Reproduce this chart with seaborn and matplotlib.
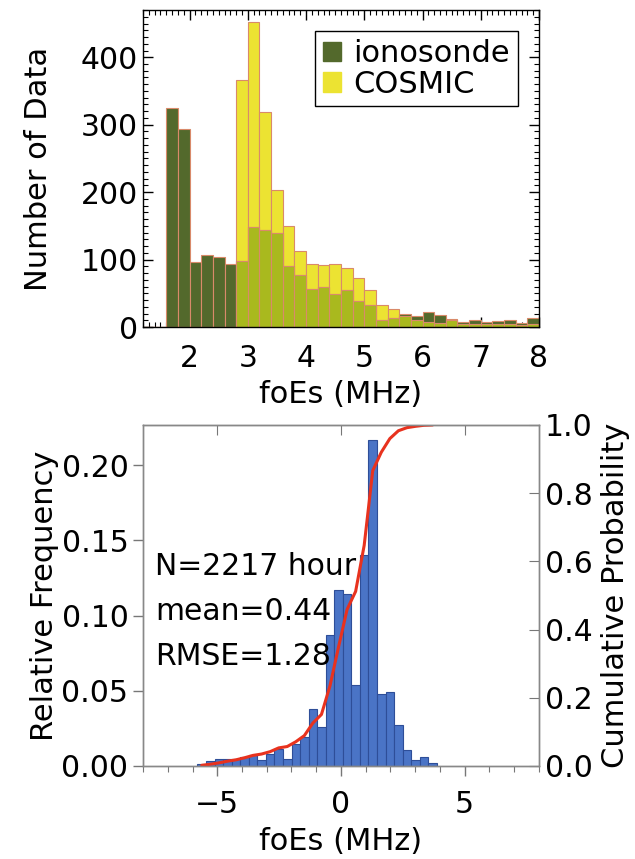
import numpy as np
import pandas as pd
import matplotlib
matplotlib.use('Agg')
import matplotlib.pyplot as plt
from matplotlib.patches import Patch
from matplotlib.ticker import MultipleLocator, FormatStrFormatter
import seaborn as sns

# Top panel: foEs histograms, 0.2 MHz bins from 1.2 to 8.0 MHz
foes_edges = [round(1.2 + 0.2 * k, 2) for k in range(35)]
ionosonde = [0, 0, 325, 293, 97, 107, 104, 93, 98, 149, 144, 139, 91, 77, 56, 60, 49,
             55, 38, 33, 11, 14, 20, 16, 22, 18, 10, 7, 11, 8, 9, 11, 6, 14]
cosmic = [0, 0, 0, 0, 0, 0, 0, 0, 367, 452, 319, 203, 150, 113, 94, 92, 94,
          88, 72, 55, 32, 27, 16, 11, 7, 6, 12, 4, 5, 4, 4, 4, 3, 4]

# Bottom panel: foEs difference histogram (relative frequency) and cumulative probability
diff_edges = [round(-5.8 + 0.3455 * k, 4) for k in range(29)]
rel_freq = [0.0016, 0.0033, 0.0044, 0.0049, 0.0044, 0.006, 0.007, 0.004, 0.0078, 0.011,
            0.0044, 0.0144, 0.019, 0.038, 0.0256, 0.087, 0.117, 0.114, 0.054, 0.14,
            0.217, 0.048, 0.049, 0.027, 0.0107, 0.004, 0.006, 0.0022]
cum_prob = [0.002, 0.005, 0.009, 0.014, 0.018, 0.024, 0.031, 0.035, 0.042, 0.053,
            0.057, 0.071, 0.089, 0.126, 0.151, 0.235, 0.349, 0.459, 0.512, 0.647,
            0.866, 0.920, 0.960, 0.983, 0.992, 0.996, 0.999, 1.000]
stats_lines = ['N=2217 hour', 'mean=0.44', 'RMSE=1.28']

green = '#53692c'
yellow = '#ece332'
olive = '#a9b91e'
blue = '#4a74c6'

sns.set_style('ticks')
plt.rcParams['font.family'] = ['DejaVu Sans']
plt.rcParams['font.size'] = 21.5
plt.rcParams['text.color'] = 'black'
plt.rcParams['axes.labelcolor'] = 'black'
plt.rcParams['xtick.labelcolor'] = 'black'
plt.rcParams['ytick.labelcolor'] = 'black'

fig = plt.figure(figsize=(6.35, 8.59), dpi=100)

# ---------- top panel ----------
ax1 = fig.add_axes([0.2252, 0.6193, 0.6236, 0.369])
foes_centers = [(a + b) / 2 for a, b in zip(foes_edges[:-1], foes_edges[1:])]
overlap = [min(a, b) for a, b in zip(ionosonde, cosmic)]
for vals, col in [(cosmic, yellow), (ionosonde, green), (overlap, olive)]:
    df = pd.DataFrame({'foEs': foes_centers, 'n': vals})
    sns.histplot(data=df, x='foEs', weights='n', bins=foes_edges, color=col,
                 edgecolor='#d98a6a', linewidth=0.8, alpha=1, ax=ax1)
ax1.set_xlim(1.2, 8.0)
ax1.set_ylim(0, 470)
ax1.xaxis.set_major_locator(MultipleLocator(1))
ax1.xaxis.set_minor_locator(MultipleLocator(0.1))
ax1.yaxis.set_major_locator(MultipleLocator(100))
ax1.yaxis.set_minor_locator(MultipleLocator(10))
ax1.tick_params(which='both', direction='in', top=True, right=True, labelsize=21.5,
                color='black', labelcolor='black')
ax1.tick_params(which='major', length=7, width=1)
ax1.tick_params(which='minor', length=3.5, width=0.8)
ax1.tick_params(axis='x', which='both', pad=12)
for sp in ax1.spines.values():
    sp.set_color('black')
    sp.set_linewidth(1)
ax1.set_xlabel('foEs (MHz)', fontsize=22, labelpad=5)
ax1.set_ylabel('Number of Data', fontsize=22, labelpad=20)
handles = [Patch(facecolor=green, edgecolor=green), Patch(facecolor=yellow, edgecolor=yellow)]
leg = ax1.legend(handles, ['ionosonde', 'COSMIC'], loc='upper right', fontsize=22,
                 frameon=True, fancybox=False, edgecolor='black', framealpha=1,
                 handlelength=0.6, handleheight=0.6, handletextpad=0.4,
                 borderpad=0.25, labelspacing=0.05, borderaxespad=0.7)
leg.get_frame().set_linewidth(1)

# ---------- bottom panel ----------
ax2 = fig.add_axes([0.2252, 0.1083, 0.6236, 0.397])
diff_centers = [(a + b) / 2 for a, b in zip(diff_edges[:-1], diff_edges[1:])]
diff_df = pd.DataFrame({'diff': diff_centers, 'freq': rel_freq, 'cum': cum_prob})
sns.histplot(data=diff_df, x='diff', weights='freq', bins=diff_edges, color=blue,
             edgecolor='#2e4e98', linewidth=0.8, alpha=1, ax=ax2)
ax2.set_xlim(-8, 8)
ax2.set_ylim(0, 0.2267)
ax2.xaxis.set_major_locator(MultipleLocator(5))
ax2.xaxis.set_minor_locator(MultipleLocator(1))
ax2.yaxis.set_major_locator(MultipleLocator(0.05))
ax2.yaxis.set_major_formatter(FormatStrFormatter('%.2f'))
ax2.tick_params(which='both', direction='out', color='#777777', labelsize=21.5, labelcolor='black')
ax2.tick_params(which='major', length=7, width=1)
ax2.tick_params(which='minor', length=4, width=0.8)
ax2.tick_params(axis='x', which='both', pad=10)
ax2.set_xlabel('foEs (MHz)', fontsize=22, labelpad=6)
ax2.set_ylabel('Relative Frequency', fontsize=22, labelpad=2)

top = ax2.secondary_xaxis('top')
top.set_xticks([-5, 0, 5])
top.tick_params(direction='in', length=7, color='#777777', labeltop=False)

ax3 = ax2.twinx()
sns.lineplot(data=diff_df, x='diff', y='cum', color='#e8321e', linewidth=2.2, ax=ax3)
ax3.set_ylim(0, 1.0)
ax3.yaxis.set_major_locator(MultipleLocator(0.2))
ax3.yaxis.set_major_formatter(FormatStrFormatter('%.1f'))
ax3.tick_params(axis='y', direction='in', length=7, color='#777777', labelsize=21.5,
                labelcolor='black', pad=4)
ax3.set_ylabel('Cumulative Probability', fontsize=22, labelpad=6)

for a in (ax2, ax3):
    for sp in a.spines.values():
        sp.set_color('#888888')
        sp.set_linewidth(1)
top.spines['top'].set_color('#888888')

for i, line in enumerate(stats_lines):
    ax2.text(0.03, 0.585 - i * 0.132, line, transform=ax2.transAxes,
             fontsize=21.5, va='center', ha='left', color='black')

fig.savefig('out.png', dpi=100)
